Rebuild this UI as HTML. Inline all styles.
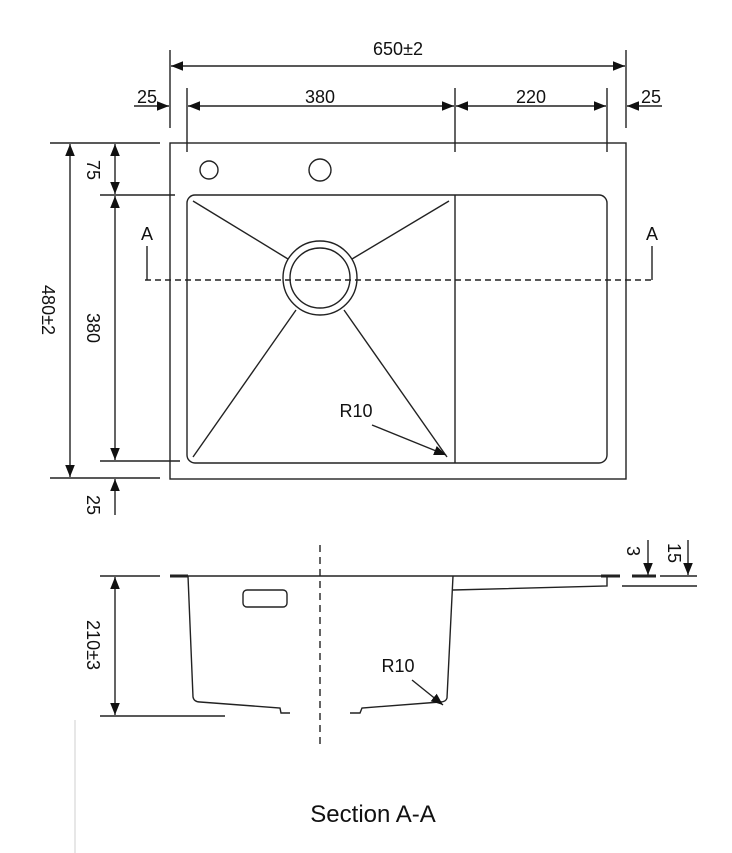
<!DOCTYPE html>
<html><head><meta charset="utf-8"><style>body{margin:0;background:#fff}svg{display:block}text{font-family:"Liberation Sans",sans-serif;fill:#111}</style></head><body>
<svg width="732" height="853" viewBox="0 0 732 853" xmlns="http://www.w3.org/2000/svg">
<defs><marker id="a" viewBox="0 0 10 10" refX="10" refY="5" markerWidth="12" markerHeight="12" orient="auto-start-reverse" markerUnits="userSpaceOnUse"><path d="M0,1 L10,5 L0,9 z" fill="#111"/></marker></defs>
<g stroke="#222" stroke-width="1.4" fill="none">
<line x1="170" y1="50" x2="170" y2="128"/><line x1="626" y1="50" x2="626" y2="128"/>
<line x1="171" y1="66" x2="625" y2="66" marker-start="url(#a)" marker-end="url(#a)"/>
<line x1="187" y1="88" x2="187" y2="152"/><line x1="455" y1="88" x2="455" y2="152"/><line x1="607" y1="88" x2="607" y2="152"/>
<line x1="188" y1="106" x2="454" y2="106" marker-start="url(#a)" marker-end="url(#a)"/>
<line x1="456" y1="106" x2="606" y2="106" marker-start="url(#a)" marker-end="url(#a)"/>
<line x1="134" y1="106" x2="169" y2="106" marker-end="url(#a)"/>
<line x1="662" y1="106" x2="627" y2="106" marker-end="url(#a)"/>
<rect x="170" y="143" width="456" height="336"/>
<circle cx="209" cy="170" r="9"/><circle cx="320" cy="170" r="11"/>
<rect x="187" y="195" width="420" height="268" rx="8"/>
<line x1="455" y1="195" x2="455" y2="463"/>
<circle cx="320" cy="278" r="37"/><circle cx="320" cy="278" r="30"/>
<line x1="193" y1="201" x2="288" y2="259"/><line x1="449" y1="201" x2="352" y2="259"/>
<line x1="193" y1="457" x2="296" y2="310"/><line x1="447" y1="457" x2="344" y2="310"/>
<line x1="145" y1="280" x2="655" y2="280" stroke-dasharray="6,4"/>
<line x1="147" y1="246" x2="147" y2="280"/><line x1="652" y1="246" x2="652" y2="280"/>
<line x1="372" y1="425" x2="446" y2="455" marker-end="url(#a)"/>
<line x1="50" y1="143" x2="160" y2="143"/><line x1="50" y1="478" x2="160" y2="478"/>
<line x1="70" y1="144" x2="70" y2="477" marker-start="url(#a)" marker-end="url(#a)"/>
<line x1="100" y1="195" x2="175" y2="195"/><line x1="100" y1="461" x2="180" y2="461"/>
<line x1="115" y1="144" x2="115" y2="194" marker-start="url(#a)" marker-end="url(#a)"/>
<line x1="115" y1="196" x2="115" y2="460" marker-start="url(#a)" marker-end="url(#a)"/>
<line x1="115" y1="515" x2="115" y2="479" marker-end="url(#a)"/>
<line x1="100" y1="576" x2="160" y2="576"/><line x1="100" y1="716" x2="225" y2="716"/>
<line x1="115" y1="577" x2="115" y2="715" marker-start="url(#a)" marker-end="url(#a)"/>
<line x1="170" y1="576" x2="611" y2="576"/>
<line x1="170" y1="576" x2="188" y2="576" stroke-width="3"/>
<line x1="601" y1="576" x2="620" y2="576" stroke-width="3"/>
<path d="M188,576 L193,697 Q194,702 200,702 L280,708 L281,713 L290,713"/>
<path d="M453,576 L447,698 Q446,702 440,702 L362,708 L360,713 L350,713"/>
<path d="M453,590 L607,586 L607,576"/>
<rect x="243" y="590" width="44" height="17" rx="4"/>
<line x1="320" y1="545" x2="320" y2="748" stroke-dasharray="7,5"/>
<line x1="412" y1="680" x2="443" y2="705" marker-end="url(#a)"/>
<line x1="648" y1="540" x2="648" y2="575" marker-end="url(#a)"/>
<line x1="688" y1="540" x2="688" y2="575" marker-end="url(#a)"/>
<line x1="632" y1="576" x2="656" y2="576" stroke-width="3"/>
<line x1="660" y1="576" x2="697" y2="576"/>
<line x1="622" y1="586" x2="697" y2="586"/>
<line x1="75" y1="720" x2="75" y2="853" stroke="#ddd"/>
</g>
<g font-size="18">
<text x="398" y="55" text-anchor="middle">650±2</text>
<text x="147" y="103" text-anchor="middle">25</text>
<text x="320" y="103" text-anchor="middle">380</text>
<text x="531" y="103" text-anchor="middle">220</text>
<text x="651" y="103" text-anchor="middle">25</text>
<text x="147" y="240" text-anchor="middle">A</text>
<text x="652" y="240" text-anchor="middle">A</text>
<text x="356" y="417" text-anchor="middle">R10</text>
<text x="398" y="672" text-anchor="middle">R10</text>
<text transform="translate(42,310) rotate(90)" text-anchor="middle">480±2</text>
<text transform="translate(87,170) rotate(90)" text-anchor="middle">75</text>
<text transform="translate(87,328) rotate(90)" text-anchor="middle">380</text>
<text transform="translate(87,505) rotate(90)" text-anchor="middle">25</text>
<text transform="translate(87,645) rotate(90)" text-anchor="middle">210±3</text>
<text transform="translate(627,551) rotate(90)" text-anchor="middle">3</text>
<text transform="translate(668,553) rotate(90)" text-anchor="middle">15</text>
</g>
<text x="373" y="822" text-anchor="middle" font-size="24">Section A-A</text>
</svg>
</body></html>
